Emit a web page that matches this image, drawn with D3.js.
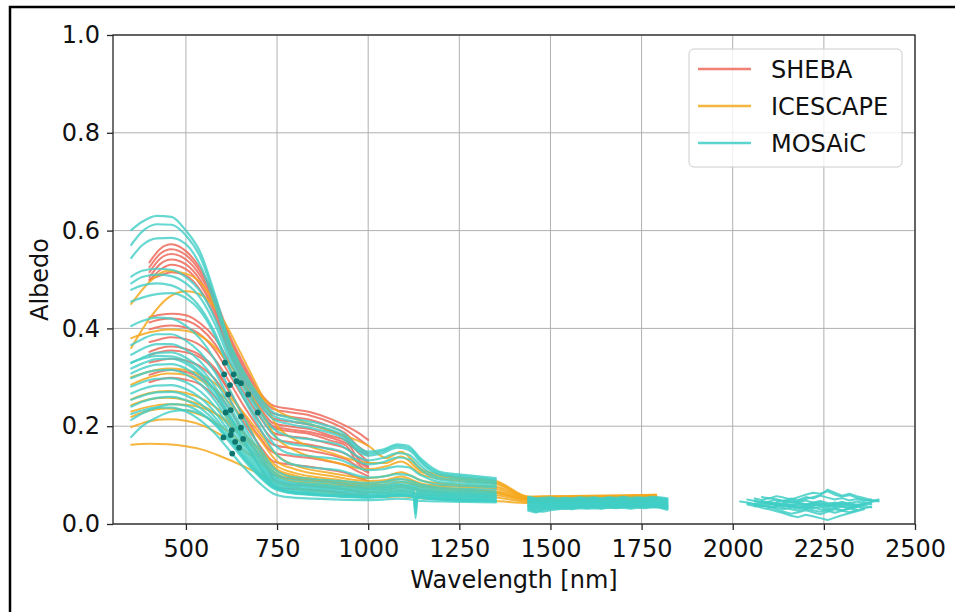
<!DOCTYPE html>
<html>
<head>
<meta charset="utf-8">
<script src="https://cdn.jsdelivr.net/npm/d3@7"></script>
<style>
  body { margin: 0; background: #fff; }
  svg { display: block; }
  text { font-family: "DejaVu Sans", sans-serif; fill: #111; }
</style>
</head>
<body>
<svg id="chart" width="955" height="612"></svg>
<script>
// ---- Tick labels ----
const xTicks = [500, 750, 1000, 1250, 1500, 1750, 2000, 2250, 2500];
const yTicks = [0.0, 0.2, 0.4, 0.6, 0.8, 1.0];

// ---- Campaign names and colours ----
const campaigns = ["SHEBA", "ICESCAPE", "MOSAiC"];
const campaignColors = ["#ef6a5c", "#f5a81c", "#40cec6"];

// ---- SHEBA spectra (400-1000 nm) ----
const shebaWl = [400, 430, 460, 500, 540, 580, 620, 660, 700, 740, 780, 840, 900, 940, 970, 1000];
const shebaAlbedo = [
  [0.535, 0.563, 0.572, 0.558, 0.522, 0.462, 0.385, 0.325, 0.272, 0.242, 0.236, 0.229, 0.214, 0.200, 0.188, 0.172],
  [0.525, 0.553, 0.562, 0.550, 0.515, 0.455, 0.378, 0.318, 0.265, 0.235, 0.229, 0.222, 0.207, 0.192, 0.176, 0.160],
  [0.515, 0.543, 0.552, 0.541, 0.507, 0.448, 0.371, 0.311, 0.258, 0.226, 0.220, 0.213, 0.198, 0.184, 0.160, 0.145],
  [0.505, 0.532, 0.541, 0.531, 0.498, 0.440, 0.364, 0.303, 0.250, 0.216, 0.210, 0.203, 0.189, 0.176, 0.148, 0.128],
  [0.498, 0.520, 0.530, 0.521, 0.489, 0.432, 0.356, 0.296, 0.242, 0.206, 0.200, 0.194, 0.180, 0.170, 0.135, 0.118],
  [0.500, 0.508, 0.515, 0.508, 0.478, 0.423, 0.348, 0.288, 0.234, 0.196, 0.190, 0.184, 0.170, 0.160, 0.125, 0.108],
  [0.423, 0.428, 0.430, 0.427, 0.410, 0.380, 0.330, 0.280, 0.235, 0.200, 0.194, 0.188, 0.176, 0.165, 0.152, 0.140],
  [0.412, 0.418, 0.420, 0.416, 0.400, 0.368, 0.318, 0.268, 0.222, 0.186, 0.180, 0.174, 0.163, 0.154, 0.138, 0.125],
  [0.398, 0.404, 0.406, 0.402, 0.387, 0.355, 0.305, 0.255, 0.210, 0.174, 0.168, 0.162, 0.152, 0.143, 0.128, 0.115],
  [0.372, 0.378, 0.382, 0.378, 0.365, 0.336, 0.290, 0.240, 0.196, 0.162, 0.156, 0.150, 0.141, 0.132, 0.118, 0.105],
  [0.345, 0.352, 0.355, 0.351, 0.340, 0.313, 0.270, 0.222, 0.180, 0.146, 0.140, 0.135, 0.127, 0.120, 0.108, 0.098],
  [0.330, 0.335, 0.338, 0.334, 0.322, 0.296, 0.254, 0.206, 0.163, 0.128, 0.122, 0.117, 0.110, 0.104, 0.095, 0.088],
  [0.305, 0.312, 0.315, 0.311, 0.300, 0.275, 0.234, 0.185, 0.140, 0.100, 0.094, 0.090, 0.085, 0.080, 0.075, 0.072],
  [0.290, 0.296, 0.299, 0.295, 0.285, 0.260, 0.218, 0.168, 0.120, 0.078, 0.072, 0.070, 0.067, 0.063, 0.060, 0.058],
  [0.352, 0.360, 0.363, 0.358, 0.345, 0.318, 0.272, 0.215, 0.160, 0.092, 0.082, 0.078, 0.074, 0.070, 0.066, 0.063]
];

// ---- ICESCAPE spectra (350-1790 nm) ----
const icescapeWl = [350, 400, 450, 500, 550, 600, 650, 700, 750, 800, 900, 1000, 1050, 1090, 1150, 1250, 1350, 1440, 1500, 1600, 1700, 1790];
const icescapeAlbedo = [
  [0.162, 0.164, 0.163, 0.159, 0.151, 0.137, 0.121, 0.103, 0.084, 0.074, 0.064, 0.057, 0.055, 0.057, 0.052, 0.050, 0.047, 0.043, 0.044, 0.045, 0.046, 0.047],
  [0.198, 0.210, 0.214, 0.211, 0.200, 0.180, 0.155, 0.128, 0.098, 0.086, 0.075, 0.066, 0.064, 0.068, 0.060, 0.057, 0.054, 0.046, 0.047, 0.048, 0.049, 0.050],
  [0.219, 0.232, 0.236, 0.232, 0.220, 0.198, 0.168, 0.136, 0.102, 0.090, 0.080, 0.072, 0.070, 0.075, 0.066, 0.062, 0.059, 0.048, 0.049, 0.050, 0.051, 0.052],
  [0.243, 0.255, 0.258, 0.253, 0.240, 0.215, 0.182, 0.145, 0.108, 0.095, 0.084, 0.076, 0.075, 0.080, 0.070, 0.066, 0.063, 0.050, 0.051, 0.052, 0.053, 0.054],
  [0.255, 0.268, 0.272, 0.268, 0.254, 0.228, 0.192, 0.152, 0.112, 0.099, 0.088, 0.080, 0.080, 0.086, 0.075, 0.070, 0.067, 0.051, 0.052, 0.053, 0.054, 0.056],
  [0.285, 0.300, 0.308, 0.305, 0.290, 0.262, 0.222, 0.176, 0.128, 0.112, 0.098, 0.088, 0.090, 0.097, 0.082, 0.076, 0.072, 0.052, 0.053, 0.054, 0.055, 0.057],
  [0.300, 0.312, 0.318, 0.315, 0.302, 0.275, 0.235, 0.188, 0.140, 0.120, 0.104, 0.094, 0.098, 0.106, 0.088, 0.080, 0.076, 0.053, 0.054, 0.055, 0.056, 0.058],
  [0.380, 0.392, 0.398, 0.395, 0.380, 0.345, 0.295, 0.238, 0.175, 0.150, 0.128, 0.112, 0.118, 0.128, 0.100, 0.088, 0.082, 0.054, 0.055, 0.056, 0.057, 0.059],
  [0.360, 0.420, 0.462, 0.476, 0.465, 0.420, 0.350, 0.275, 0.200, 0.172, 0.145, 0.125, 0.125, 0.138, 0.105, 0.092, 0.085, 0.055, 0.056, 0.057, 0.058, 0.060],
  [0.450, 0.495, 0.518, 0.512, 0.485, 0.415, 0.318, 0.268, 0.232, 0.215, 0.190, 0.160, 0.135, 0.148, 0.110, 0.095, 0.088, 0.056, 0.057, 0.058, 0.059, 0.060],
  [0.230, 0.240, 0.245, 0.244, 0.236, 0.218, 0.190, 0.155, 0.118, 0.104, 0.092, 0.083, 0.086, 0.092, 0.078, 0.072, 0.065, 0.049, 0.048, 0.049, 0.050, 0.051]
];

// ---- MOSAiC spectra, visible / near-infrared part (350-1350 nm) ----
const mosaicWl = [350, 380, 420, 460, 500, 540, 580, 620, 660, 700, 740, 780, 850, 920, 1000, 1040, 1080, 1110, 1125, 1130, 1135, 1150, 1200, 1270, 1350];
const mosaicAlbedo = [
  [0.601, 0.618, 0.630, 0.628, 0.600, 0.555, 0.468, 0.372, 0.310, 0.262, 0.228, 0.218, 0.208, 0.192, 0.148, 0.152, 0.163, 0.160, 0.150, 0.146, 0.141, 0.130, 0.106, 0.100, 0.094],
  [0.571, 0.598, 0.613, 0.612, 0.590, 0.545, 0.460, 0.365, 0.303, 0.255, 0.221, 0.212, 0.202, 0.186, 0.144, 0.149, 0.160, 0.156, 0.147, 0.143, 0.138, 0.126, 0.103, 0.097, 0.091],
  [0.544, 0.570, 0.584, 0.585, 0.572, 0.528, 0.448, 0.355, 0.295, 0.248, 0.214, 0.205, 0.195, 0.180, 0.140, 0.145, 0.156, 0.152, 0.143, 0.139, 0.134, 0.122, 0.100, 0.094, 0.088],
  [0.506, 0.518, 0.522, 0.520, 0.505, 0.475, 0.420, 0.345, 0.285, 0.235, 0.195, 0.180, 0.172, 0.162, 0.130, 0.135, 0.145, 0.142, 0.134, 0.130, 0.126, 0.115, 0.094, 0.090, 0.085],
  [0.492, 0.505, 0.510, 0.507, 0.492, 0.462, 0.408, 0.335, 0.276, 0.226, 0.182, 0.165, 0.158, 0.150, 0.122, 0.126, 0.136, 0.133, 0.126, 0.122, 0.118, 0.108, 0.090, 0.086, 0.082],
  [0.479, 0.488, 0.492, 0.488, 0.472, 0.442, 0.390, 0.320, 0.262, 0.212, 0.165, 0.145, 0.138, 0.132, 0.110, 0.112, 0.118, 0.116, 0.110, 0.107, 0.104, 0.098, 0.085, 0.082, 0.078],
  [0.455, 0.463, 0.470, 0.472, 0.462, 0.435, 0.385, 0.315, 0.255, 0.200, 0.150, 0.125, 0.115, 0.110, 0.095, 0.097, 0.102, 0.100, 0.096, 0.094, 0.092, 0.088, 0.080, 0.078, 0.075],
  [0.405, 0.415, 0.422, 0.420, 0.405, 0.378, 0.335, 0.275, 0.215, 0.160, 0.115, 0.098, 0.092, 0.088, 0.084, 0.086, 0.092, 0.090, 0.086, 0.085, 0.083, 0.080, 0.074, 0.072, 0.070],
  [0.366, 0.378, 0.388, 0.388, 0.375, 0.350, 0.310, 0.255, 0.200, 0.150, 0.108, 0.092, 0.087, 0.083, 0.079, 0.081, 0.087, 0.085, 0.081, 0.080, 0.078, 0.076, 0.070, 0.068, 0.066],
  [0.346, 0.358, 0.368, 0.368, 0.356, 0.332, 0.294, 0.242, 0.190, 0.142, 0.102, 0.087, 0.082, 0.078, 0.075, 0.077, 0.082, 0.080, 0.077, 0.076, 0.074, 0.072, 0.067, 0.065, 0.063],
  [0.329, 0.340, 0.350, 0.351, 0.340, 0.318, 0.281, 0.232, 0.182, 0.136, 0.098, 0.084, 0.079, 0.075, 0.072, 0.074, 0.079, 0.077, 0.074, 0.073, 0.071, 0.069, 0.064, 0.062, 0.060],
  [0.318, 0.328, 0.337, 0.338, 0.328, 0.306, 0.270, 0.222, 0.174, 0.130, 0.094, 0.081, 0.076, 0.072, 0.069, 0.071, 0.076, 0.074, 0.071, 0.070, 0.068, 0.066, 0.062, 0.060, 0.058],
  [0.308, 0.318, 0.326, 0.327, 0.318, 0.297, 0.262, 0.215, 0.168, 0.125, 0.090, 0.078, 0.073, 0.069, 0.066, 0.068, 0.072, 0.071, 0.068, 0.040, 0.066, 0.064, 0.060, 0.058, 0.056],
  [0.298, 0.307, 0.314, 0.315, 0.306, 0.286, 0.252, 0.207, 0.161, 0.120, 0.087, 0.075, 0.070, 0.066, 0.063, 0.065, 0.069, 0.068, 0.065, 0.064, 0.063, 0.061, 0.058, 0.056, 0.054],
  [0.281, 0.290, 0.297, 0.298, 0.290, 0.271, 0.240, 0.197, 0.153, 0.114, 0.083, 0.072, 0.067, 0.063, 0.060, 0.062, 0.066, 0.065, 0.062, 0.030, 0.061, 0.059, 0.056, 0.054, 0.052],
  [0.267, 0.276, 0.283, 0.284, 0.276, 0.258, 0.228, 0.187, 0.146, 0.109, 0.080, 0.069, 0.064, 0.060, 0.058, 0.060, 0.063, 0.062, 0.060, 0.059, 0.058, 0.057, 0.054, 0.052, 0.050],
  [0.254, 0.262, 0.269, 0.270, 0.263, 0.246, 0.218, 0.179, 0.140, 0.105, 0.077, 0.067, 0.062, 0.058, 0.056, 0.058, 0.061, 0.060, 0.058, 0.012, 0.057, 0.055, 0.052, 0.050, 0.048],
  [0.240, 0.250, 0.258, 0.260, 0.253, 0.237, 0.210, 0.172, 0.134, 0.101, 0.075, 0.065, 0.060, 0.057, 0.055, 0.056, 0.059, 0.058, 0.056, 0.055, 0.055, 0.054, 0.051, 0.049, 0.047],
  [0.213, 0.226, 0.238, 0.245, 0.242, 0.228, 0.203, 0.167, 0.130, 0.098, 0.073, 0.064, 0.059, 0.056, 0.054, 0.055, 0.058, 0.057, 0.055, 0.022, 0.054, 0.053, 0.050, 0.048, 0.046],
  [0.178, 0.200, 0.218, 0.230, 0.233, 0.225, 0.205, 0.172, 0.136, 0.102, 0.076, 0.066, 0.061, 0.057, 0.055, 0.056, 0.059, 0.058, 0.056, 0.055, 0.055, 0.053, 0.051, 0.049, 0.047],
  [0.225, 0.232, 0.238, 0.238, 0.230, 0.212, 0.185, 0.150, 0.115, 0.085, 0.062, 0.055, 0.052, 0.050, 0.049, 0.050, 0.052, 0.051, 0.049, 0.048, 0.048, 0.047, 0.046, 0.045, 0.044],
  [0.330, 0.338, 0.344, 0.343, 0.333, 0.310, 0.272, 0.222, 0.170, 0.120, 0.080, 0.066, 0.061, 0.058, 0.055, 0.056, 0.059, 0.058, 0.056, 0.055, 0.055, 0.053, 0.050, 0.048, 0.047]
];

// ---- MOSAiC spectra, first short-wave infrared window (1440-1820 nm) ----
const mosaicSwir1Wl = [1440, 1460, 1480, 1500, 1520, 1540, 1560, 1580, 1600, 1620, 1640, 1660, 1680, 1700, 1720, 1740, 1760, 1780, 1800, 1820];
const mosaicSwir1Albedo = [
  [0.046, 0.044, 0.042, 0.043, 0.041, 0.043, 0.042, 0.044, 0.043, 0.045, 0.044, 0.046, 0.044, 0.045, 0.043, 0.045, 0.044, 0.046, 0.045, 0.043],
  [0.040, 0.038, 0.036, 0.037, 0.036, 0.038, 0.037, 0.038, 0.036, 0.038, 0.037, 0.039, 0.038, 0.040, 0.038, 0.039, 0.038, 0.040, 0.039, 0.037],
  [0.050, 0.048, 0.047, 0.048, 0.046, 0.048, 0.047, 0.049, 0.048, 0.050, 0.048, 0.050, 0.049, 0.050, 0.048, 0.050, 0.049, 0.051, 0.050, 0.048],
  [0.034, 0.030, 0.032, 0.033, 0.032, 0.034, 0.033, 0.035, 0.034, 0.035, 0.033, 0.035, 0.034, 0.036, 0.034, 0.036, 0.035, 0.036, 0.035, 0.033],
  [0.043, 0.041, 0.040, 0.041, 0.040, 0.041, 0.040, 0.042, 0.041, 0.042, 0.041, 0.042, 0.041, 0.043, 0.041, 0.042, 0.041, 0.043, 0.042, 0.040],
  [0.028, 0.024, 0.030, 0.033, 0.034, 0.035, 0.034, 0.036, 0.035, 0.037, 0.036, 0.037, 0.036, 0.038, 0.036, 0.038, 0.037, 0.038, 0.037, 0.035],
  [0.053, 0.051, 0.050, 0.051, 0.049, 0.051, 0.050, 0.052, 0.050, 0.052, 0.051, 0.053, 0.051, 0.052, 0.050, 0.052, 0.051, 0.053, 0.052, 0.050],
  [0.038, 0.035, 0.039, 0.040, 0.038, 0.040, 0.039, 0.041, 0.039, 0.041, 0.040, 0.041, 0.040, 0.041, 0.039, 0.041, 0.040, 0.042, 0.040, 0.038],
  [0.047, 0.045, 0.044, 0.045, 0.044, 0.046, 0.045, 0.046, 0.045, 0.047, 0.046, 0.047, 0.046, 0.047, 0.045, 0.047, 0.046, 0.048, 0.047, 0.045],
  [0.031, 0.027, 0.026, 0.029, 0.031, 0.032, 0.031, 0.033, 0.032, 0.033, 0.032, 0.034, 0.033, 0.034, 0.032, 0.034, 0.033, 0.035, 0.034, 0.030],
  [0.055, 0.052, 0.053, 0.054, 0.052, 0.053, 0.052, 0.054, 0.053, 0.054, 0.052, 0.054, 0.053, 0.055, 0.053, 0.054, 0.053, 0.055, 0.054, 0.052],
  [0.036, 0.033, 0.034, 0.036, 0.035, 0.036, 0.035, 0.037, 0.036, 0.037, 0.035, 0.037, 0.036, 0.037, 0.035, 0.037, 0.036, 0.037, 0.036, 0.032]
];

// ---- MOSAiC spectra, second short-wave infrared window (2020-2400 nm) ----
const mosaicSwir2Wl = [2020, 2040, 2060, 2080, 2100, 2120, 2140, 2160, 2180, 2200, 2220, 2240, 2260, 2280, 2300, 2320, 2340, 2360, 2380, 2400];
const mosaicSwir2Albedo = [
  [0.046, 0.044, 0.040, 0.036, 0.038, 0.033, 0.030, 0.034, 0.031, 0.036, 0.032, 0.035, 0.030, 0.033, 0.028, 0.031, 0.034, null, null, null],
  [null, 0.050, 0.047, 0.043, 0.046, 0.050, 0.047, 0.052, 0.049, 0.055, 0.052, 0.058, 0.054, 0.050, 0.053, 0.048, 0.051, 0.047, 0.050, null],
  [null, null, 0.042, 0.038, 0.035, 0.030, 0.025, 0.021, 0.024, 0.028, 0.024, 0.020, 0.025, 0.030, 0.027, 0.032, 0.029, null, null, null],
  [null, null, null, 0.055, 0.052, 0.057, 0.054, 0.050, 0.055, 0.060, 0.064, 0.062, 0.067, 0.060, 0.056, 0.059, 0.054, 0.050, 0.047, 0.050],
  [null, 0.040, 0.037, 0.033, 0.030, 0.026, 0.022, 0.017, 0.014, 0.019, 0.016, 0.012, 0.008, 0.013, 0.018, 0.022, 0.026, 0.030, null, null],
  [null, null, 0.048, 0.045, 0.041, 0.044, 0.040, 0.037, 0.041, 0.038, 0.042, 0.045, 0.041, 0.044, 0.040, 0.043, 0.039, 0.042, 0.045, 0.048],
  [null, null, null, 0.038, 0.034, 0.037, 0.033, 0.030, 0.027, 0.031, 0.028, 0.025, 0.029, 0.033, 0.036, 0.033, 0.037, 0.040, 0.043, null],
  [null, null, 0.052, 0.049, 0.053, 0.050, 0.046, 0.049, 0.045, 0.048, 0.044, 0.047, 0.043, 0.040, 0.044, 0.040, 0.036, 0.033, null, null],
  [null, null, null, null, 0.044, 0.040, 0.036, 0.039, 0.035, 0.031, 0.034, 0.030, 0.027, 0.023, 0.027, 0.024, 0.028, 0.032, 0.035, null],
  [null, null, null, null, null, 0.045, 0.048, 0.044, 0.047, 0.051, 0.055, 0.059, 0.070, 0.064, 0.058, 0.062, 0.057, 0.053, 0.049, 0.046],
  [null, 0.043, 0.041, 0.044, 0.042, 0.039, 0.042, 0.040, 0.043, 0.041, 0.038, 0.041, 0.039, 0.036, 0.039, 0.037, 0.040, 0.038, null, null],
  [null, null, 0.036, 0.039, 0.042, 0.039, 0.043, 0.046, 0.043, 0.040, 0.044, 0.041, 0.038, 0.042, 0.045, 0.042, 0.046, 0.043, 0.040, null],
  [null, null, null, 0.047, 0.044, 0.041, 0.038, 0.035, 0.038, 0.034, 0.037, 0.040, 0.036, 0.039, 0.035, 0.032, 0.035, 0.038, 0.034, null],
  [null, null, null, null, 0.033, 0.036, 0.039, 0.036, 0.033, 0.037, 0.040, 0.037, 0.034, 0.038, 0.041, 0.038, 0.035, null, null, null]
];

// ---- Marked points (wavelength, albedo) ----
const markerWl = [607, 605, 631, 621, 639, 651, 616, 671, 609, 623, 697, 651, 626, 651, 623, 603, 657, 635, 646, 627];
const markerAlbedo = [0.330, 0.306, 0.306, 0.284, 0.292, 0.288, 0.265, 0.265, 0.228, 0.233, 0.228, 0.220, 0.192, 0.197, 0.182, 0.177, 0.174, 0.168, 0.156, 0.144];

// ---- Layout ----
const svg = d3.select("#chart");
const plotLeft = 113, plotRight = 915, plotTop = 35, plotBottom = 524;
const x = d3.scaleLinear().domain([300, 2500]).range([plotLeft, plotRight]);
const y = d3.scaleLinear().domain([0, 1]).range([plotBottom, plotTop]);
const FONT = 24;

// figure frame
svg.append("rect")
  .attr("x", 10).attr("y", 7).attr("width", 980).attr("height", 700)
  .attr("fill", "none").attr("stroke", "#000").attr("stroke-width", 2.5);

// grid
const grid = svg.append("g").attr("stroke", "#b0b0b0").attr("stroke-width", 1);
grid.selectAll("line.v").data(xTicks).join("line").attr("class", "v")
  .attr("x1", d => x(d)).attr("x2", d => x(d)).attr("y1", plotTop).attr("y2", plotBottom);
grid.selectAll("line.h").data(yTicks).join("line").attr("class", "h")
  .attr("x1", plotLeft).attr("x2", plotRight).attr("y1", d => y(d)).attr("y2", d => y(d));

// spectra
const smooth = d3.line().defined(d => d[1] != null)
  .x(d => x(d[0])).y(d => y(d[1])).curve(d3.curveMonotoneX);
const jagged = d3.line().defined(d => d[1] != null)
  .x(d => x(d[0])).y(d => y(d[1]));

function drawSet(wl, rows, gen, color, width, opacity) {
  svg.append("g").selectAll("path").data(rows).join("path")
    .attr("d", r => gen(r.map((v, i) => [wl[i], v])))
    .attr("fill", "none").attr("stroke", color)
    .attr("stroke-width", width).attr("stroke-opacity", opacity)
    .attr("stroke-linejoin", "round").attr("stroke-linecap", "round");
}

drawSet(shebaWl, shebaAlbedo, smooth, campaignColors[0], 2, 0.85);
drawSet(icescapeWl, icescapeAlbedo, smooth, campaignColors[1], 2, 0.85);
drawSet(mosaicWl, mosaicAlbedo, smooth, campaignColors[2], 2.2, 0.8);
drawSet(mosaicSwir1Wl, mosaicSwir1Albedo, jagged, campaignColors[2], 2.8, 0.85);
drawSet(mosaicSwir2Wl, mosaicSwir2Albedo, jagged, campaignColors[2], 2, 0.85);

// marked points
svg.append("g").selectAll("circle").data(markerWl).join("circle")
  .attr("cx", d => x(d)).attr("cy", (d, i) => y(markerAlbedo[i]))
  .attr("r", 2.9).attr("fill", "#0f766f");

// axes frame
svg.append("rect")
  .attr("x", plotLeft).attr("y", plotTop).attr("width", plotRight - plotLeft).attr("height", plotBottom - plotTop)
  .attr("fill", "none").attr("stroke", "#262626").attr("stroke-width", 1.3);

// axes
const xAxis = svg.append("g").attr("transform", `translate(0,${plotBottom})`)
  .call(d3.axisBottom(x).tickValues(xTicks).tickSize(6).tickPadding(10).tickFormat(d3.format("d")));
const yAxis = svg.append("g").attr("transform", `translate(${plotLeft},0)`)
  .call(d3.axisLeft(y).tickValues(yTicks).tickSize(6).tickPadding(7).tickFormat(d3.format(".1f")));
[xAxis, yAxis].forEach(g => {
  g.select(".domain").remove();
  g.selectAll(".tick line").attr("stroke", "#262626").attr("stroke-width", 1.3);
  g.selectAll(".tick text").attr("font-size", FONT).attr("font-family", "DejaVu Sans").attr("fill", "#111");
});

// axis titles
svg.append("text").attr("x", (plotLeft + plotRight) / 2).attr("y", 588)
  .attr("text-anchor", "middle").attr("font-size", FONT).text("Wavelength [nm]");
svg.append("text").attr("transform", `translate(48,${(plotTop + plotBottom) / 2}) rotate(-90)`)
  .attr("text-anchor", "middle").attr("font-size", FONT).text("Albedo");

// legend
const lg = svg.append("g");
lg.append("rect").attr("x", 689).attr("y", 49).attr("width", 213).attr("height", 118).attr("rx", 5)
  .attr("fill", "#fff").attr("fill-opacity", 0.8).attr("stroke", "#cccccc").attr("stroke-width", 1);
campaigns.forEach((name, i) => {
  const yy = 69 + i * 37;
  lg.append("line").attr("x1", 698).attr("x2", 751).attr("y1", yy).attr("y2", yy)
    .attr("stroke", campaignColors[i]).attr("stroke-width", 2.5).attr("stroke-opacity", 0.85);
  lg.append("text").attr("x", 771).attr("y", yy + 8.5).attr("font-size", FONT).text(name);
});
</script>
</body>
</html>
